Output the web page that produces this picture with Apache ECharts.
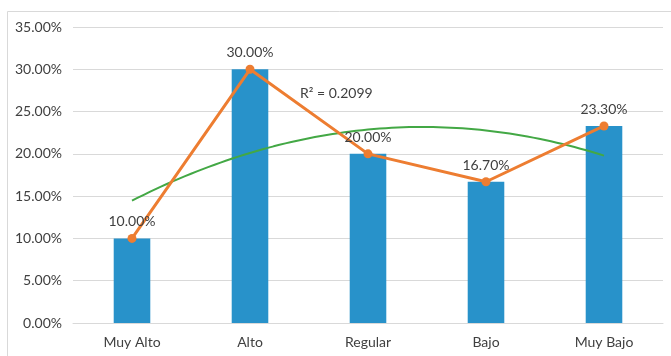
<!DOCTYPE html>
<html>
<head>
<meta charset="utf-8">
<script src="https://cdn.jsdelivr.net/npm/echarts@6/dist/echarts.min.js"></script>
<style>
  html, body { margin: 0; padding: 0; background: #ffffff; }
  #chart { width: 671px; height: 356px; }
</style>
</head>
<body>
<div id="chart"></div>
<script>
// Categories and values (percent)
const categories = ['Muy Alto', 'Alto', 'Regular', 'Bajo', 'Muy Bajo'];
const values = [10.0, 30.0, 20.0, 16.7, 23.3];
const yTicks = [0, 5, 10, 15, 20, 25, 30, 35];

// Second-order least-squares trend of the values over x = 1..n
function quadFit(ys) {
  const n = ys.length;
  const xs = ys.map((_, i) => i + 1);
  const mx = xs.reduce((a, b) => a + b, 0) / n;
  const t = xs.map(x => x - mx);
  const tt = t.map(v => v * v);
  const mtt = tt.reduce((a, b) => a + b, 0) / n;
  const q = tt.map(v => v - mtt);
  // orthogonalise q against t
  const qt = q.reduce((s, v, i) => s + v * t[i], 0) / t.reduce((s, v) => s + v * v, 0);
  const q2 = q.map((v, i) => v - qt * t[i]);
  const my = ys.reduce((a, b) => a + b, 0) / n;
  const b = ys.reduce((s, y, i) => s + y * t[i], 0) / t.reduce((s, v) => s + v * v, 0);
  const c = ys.reduce((s, y, i) => s + y * q2[i], 0) / q2.reduce((s, v) => s + v * v, 0);
  const f = x => {
    const tv = x - mx;
    const qv = tv * tv - mtt - qt * tv;
    return my + b * tv + c * qv;
  };
  const ssTot = ys.reduce((s, y) => s + (y - my) ** 2, 0);
  const ssRes = ys.reduce((s, y, i) => s + (y - f(xs[i])) ** 2, 0);
  return { f, r2: 1 - ssRes / ssTot };
}

const fit = quadFit(values);
const trendPts = [];
for (let k = 0; k <= 80; k++) {
  const x = 1 + (values.length - 1) * k / 80;
  trendPts.push([x, fit.f(x)]);
}

const textColor = '#404040';
const font = 'Lato, "Open Sans", sans-serif';
const fs = 14;

const chart = echarts.init(document.getElementById('chart'), null, { renderer: 'canvas' });
chart.setOption({
  animation: false,
  backgroundColor: '#ffffff',
  textStyle: { fontFamily: font },
  grid: { left: 73, right: 8, top: 27, bottom: 33 },
  graphic: [
    {
      type: 'rect',
      left: 5, top: 9,
      shape: { width: 700, height: 400 },
      style: { fill: 'none', stroke: '#d9d9d9', lineWidth: 1 },
      silent: true
    },
    {
      type: 'text',
      left: 300, top: 86,
      style: {
        text: 'R² = ' + fit.r2.toFixed(4),
        fill: textColor,
        font: fs + 'px ' + font
      }
    }
  ],
  xAxis: [
    {
      type: 'category',
      data: categories,
      boundaryGap: true,
      axisLine: { show: true, lineStyle: { color: '#d9d9d9' } },
      axisTick: { show: false },
      axisLabel: { color: textColor, fontSize: fs, fontFamily: font, margin: 12 }
    },
    {
      type: 'value',
      min: 0.5,
      max: categories.length + 0.5,
      show: false
    }
  ],
  yAxis: {
    type: 'value',
    min: 0,
    max: yTicks[yTicks.length - 1],
    interval: 5,
    axisLine: { show: false },
    axisTick: { show: false },
    splitLine: { lineStyle: { color: '#d9d9d9', width: 1 } },
    axisLabel: {
      color: textColor, fontSize: fs, fontFamily: font, margin: 11,
      formatter: v => v.toFixed(2) + '%'
    }
  },
  series: [
    {
      type: 'bar',
      data: values,
      barWidth: '31%',
      itemStyle: { color: '#2892CA' },
      silent: true
    },
    {
      type: 'line',
      data: values,
      symbol: 'circle',
      symbolSize: 9,
      lineStyle: { color: '#ED7D31', width: 3 },
      itemStyle: { color: '#ED7D31' },
      label: {
        show: true, position: 'top', distance: 5,
        color: textColor, fontSize: fs, fontFamily: font,
        formatter: p => p.value.toFixed(2) + '%'
      },
      z: 4
    },
    {
      type: 'line',
      xAxisIndex: 1,
      data: trendPts,
      showSymbol: false,
      symbol: 'none',
      lineStyle: { color: '#43A845', width: 2 },
      z: 3
    }
  ]
});
</script>
</body>
</html>
